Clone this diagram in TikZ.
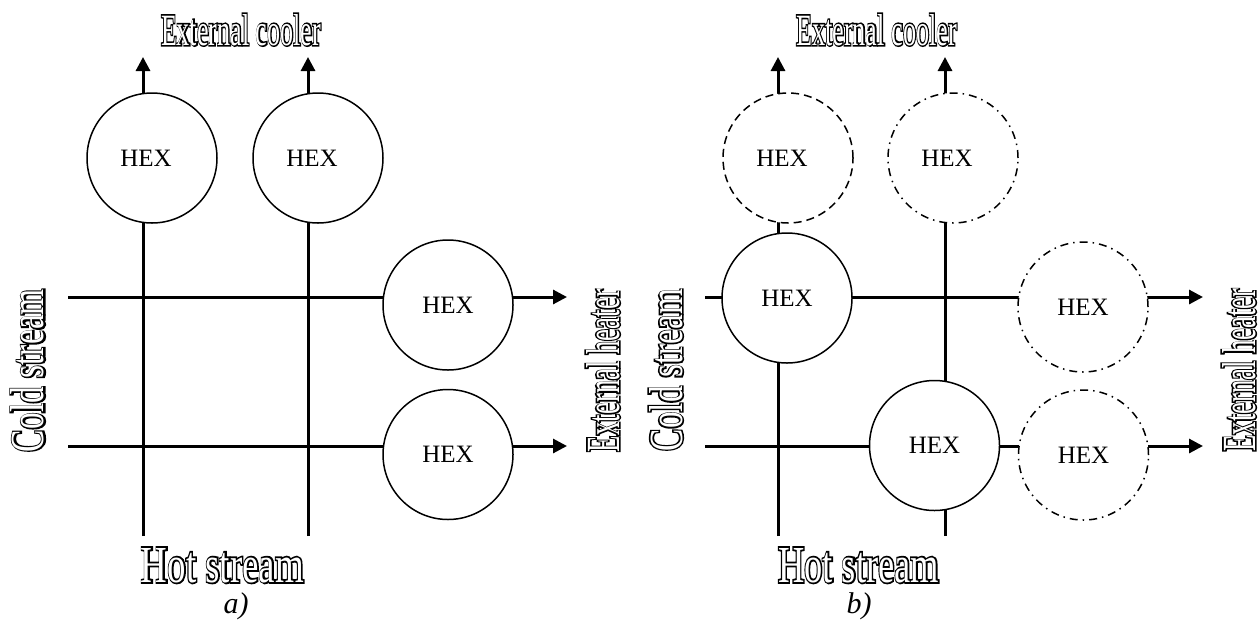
\documentclass[tikz,border=0pt]{standalone}
\usepackage{fontspec}
\usepackage{graphicx}
\setmainfont{Liberation Serif}
\newfontfamily\fatfont[FakeBold=7]{Liberation Serif}
\usetikzlibrary{arrows.meta}

\newcommand{\hollow}[1]{\rlap{\fatfont #1}\textcolor{white}{#1}}
\newcommand{\biglabel}[3]{\resizebox{#1pt}{#2pt}{\fontsize{48}{50}\selectfont\hollow{#3}}}

\begin{document}
\begin{tikzpicture}[x=1pt, y=-1pt, >={Triangle[length=14pt,width=14pt]},
		stream/.style={line width=3pt},
		hex/.style={circle, draw, fill=white, line width=1.5pt, minimum size=130pt,
			inner sep=0pt, font=\fontsize{25}{30}\selectfont},
		hexdash/.style={hex, dash pattern=on 8pt off 5pt},
		hexdot/.style={hex, dash pattern=on 8pt off 5pt on 1.5pt off 5pt},
		tag/.style={inner sep=0pt, anchor=base},
		sub/.style={inner sep=0pt, anchor=base, font=\fontsize{30}{36}\selectfont\itshape}]
	\useasboundingbox (0,0) rectangle (1260,619);

	% streams of both panels
	\foreach \p/\xa/\xb/\xl/\xr in {a/143/308/68/567, b/778/945/705/1203} {
			\coordinate (\p hot1in) at (\xa,536);
			\coordinate (\p hot1out) at (\xa,57);
			\coordinate (\p hot2in) at (\xb,536);
			\coordinate (\p hot2out) at (\xb,57);
			\coordinate (\p cold1in) at (\xl,297);
			\coordinate (\p cold1out) at (\xr,297);
			\coordinate (\p cold2in) at (\xl,446);
			\coordinate (\p cold2out) at (\xr,446);
			\draw[stream, ->] (\p hot1in) -- (\p hot1out);
			\draw[stream, ->] (\p hot2in) -- (\p hot2out);
			\draw[stream, ->] (\p cold1in) -- (\p cold1out);
			\draw[stream, ->] (\p cold2in) -- (\p cold2out);
		}

	% a)
	\node[hex] (ahex1) at (152,158) {\hspace*{-12pt}HEX};
	\node[hex] (ahex2) at (318,158) {\hspace*{-12pt}HEX};
	\node[hex] (ahex3) at (448,305) {HEX\\[-6pt]};
	\node[hex] (ahex4) at (448,454.5) {HEX};

	% b)
	\node[hexdash] (bhex1) at (788,158) {\hspace*{-12pt}HEX};
	\node[hexdot] (bhex2) at (953,158) {\hspace*{-12pt}HEX};
	\node[hex] (bhex3) at (787,298) {HEX};
	\node[hexdot] (bhex4) at (1083,307) {HEX};
	\node[hex] (bhex5) at (934.5,445.5) {HEX};
	\node[hexdot] (bhex6) at (1083.5,455) {HEX};

	\node[tag] (acooler) at (241,45) {\biglabel{160}{31}{External cooler}};
	\node[tag] (bcooler) at (876.5,45) {\biglabel{161}{31}{External cooler}};
	\node[tag] (ahot) at (222.5,582) {\biglabel{163}{34}{Hot stream}};
	\node[tag] (bhot) at (858.5,582) {\biglabel{161}{34}{Hot stream}};
	\node[tag, rotate=90] (acold) at (44,370.5) {\biglabel{163}{33}{Cold stream}};
	\node[tag, rotate=90] (bcold) at (682,370) {\biglabel{162}{33}{Cold stream}};
	\node[tag, rotate=90] (aheat) at (619,370.5) {\biglabel{163}{33}{External heater}};
	\node[tag, rotate=90] (bheat) at (1255,370) {\biglabel{163}{33}{External heater}};

	\node[sub] (acap) at (236,613) {a)};
	\node[sub] (bcap) at (859,613) {b)};
\end{tikzpicture}
\end{document}
